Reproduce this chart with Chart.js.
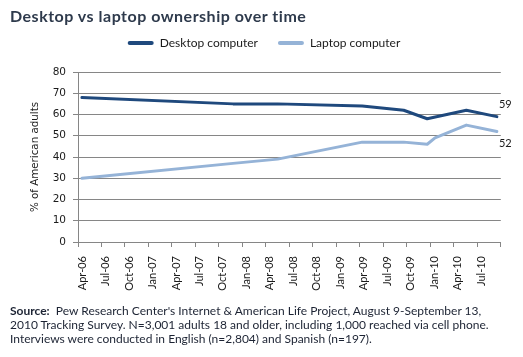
<!DOCTYPE html>
<html>
<head>
<meta charset="utf-8">
<script src="https://cdn.jsdelivr.net/npm/chart.js@4.4.1/dist/chart.umd.min.js"></script>
<style>
  html, body { margin: 0; padding: 0; background: #ffffff; }
  #wrap { position: relative; width: 523px; height: 357px; overflow: hidden; }
  #c { position: absolute; left: 0; top: 0; }
  #title { position: absolute; left: 10px; top: 6px; font: bold 16px Lato, sans-serif; letter-spacing: 0.5px; color: #2e3a4c; white-space: nowrap; }
  #foot { position: absolute; left: 10px; top: 304px; font: 12px Lato, sans-serif; line-height: 14.2px; color: #1c2333; white-space: nowrap; }
</style>
</head>
<body>
<div id="wrap">
  <canvas id="c" width="523" height="357"></canvas>
  <div id="title">Desktop vs laptop ownership over time</div>
  <div id="foot"><b>Source:</b>&nbsp; Pew Research Center's Internet &amp; American Life Project, August 9-September 13,<br>2010 Tracking Survey. N=3,001 adults 18 and older, including 1,000 reached via cell phone.<br>Interviews were conducted in English (n=2,804) and Spanish (n=197).</div>
</div>
<script>
// ---- data (x = months since April 2006) ----
const tickLabels = ['Apr-06','Jul-06','Oct-06','Jan-07','Apr-07','Jul-07','Oct-07','Jan-08','Apr-08','Jul-08','Oct-08','Jan-09','Apr-09','Jul-09','Oct-09','Jan-10','Apr-10','Jul-10',''];
const seriesNames = ['Desktop computer', 'Laptop computer'];
const desktopMonths = [0.5, 19.8, 25.5, 36.3, 41.6, 44.6, 49.6, 53.5];
const desktopValues = [68, 65, 65, 64, 62, 58, 62, 59];
const laptopMonths = [0.5, 19.8, 25.5, 36.3, 41.6, 44.6, 45.6, 49.6, 53.5];
const laptopValues = [30, 37, 39, 47, 47, 46, 49, 55, 52];

const toPoints = (xs, ys) => xs.map((x, i) => ({ x: x, y: ys[i] }));

const GRID = '#868686';
const TEXT = '#1a1a1a';
const DESK = '#1f497d';
const LAP = '#95b3d7';

const legendMargin = {
  id: 'legendMargin',
  beforeInit(chart) {
    const orig = chart.legend.fit;
    chart.legend.fit = function () {
      orig.bind(chart.legend)();
      this.height += 13;
    };
  }
};

const endLabels = {
  id: 'endLabels',
  afterDatasetsDraw(chart) {
    const ctx = chart.ctx;
    ctx.save();
    ctx.font = '11px Lato, sans-serif';
    ctx.fillStyle = TEXT;
    ctx.textAlign = 'left';
    ctx.textBaseline = 'middle';
    chart.data.datasets.forEach((ds, i) => {
      const meta = chart.getDatasetMeta(i);
      const last = meta.data[meta.data.length - 1];
      const val = ds.data[ds.data.length - 1].y;
      const dy = i === 0 ? -12 : 12;
      ctx.fillText(String(val), last.x + 2, last.y + dy);
    });
    ctx.restore();
  }
};

new Chart(document.getElementById('c'), {
  type: 'line',
  data: {
    datasets: [
      { label: seriesNames[0], data: toPoints(desktopMonths, desktopValues), borderColor: DESK, backgroundColor: DESK, borderWidth: 3, pointRadius: 0, tension: 0, borderJoinStyle: 'round', borderCapStyle: 'round' },
      { label: seriesNames[1], data: toPoints(laptopMonths, laptopValues), borderColor: LAP, backgroundColor: LAP, borderWidth: 3, pointRadius: 0, tension: 0, borderJoinStyle: 'round', borderCapStyle: 'round' }
    ]
  },
  options: {
    responsive: false,
    animation: false,
    events: [],
    layout: { padding: { left: 27, right: 22, top: 17, bottom: 0 } },
    plugins: {
      tooltip: { enabled: false },
      title: { display: false },
      legend: {
        display: true,
        position: 'top',
        labels: {
          font: { family: 'Lato', size: 12 },
          color: TEXT,
          boxWidth: 26,
          boxHeight: 4,
          padding: 20,
          generateLabels(chart) {
            return chart.data.datasets.map((ds, i) => ({
              text: ds.label,
              fillStyle: ds.borderColor,
              strokeStyle: ds.borderColor,
              lineWidth: 0,
              borderRadius: 2,
              fontColor: TEXT,
              hidden: false,
              datasetIndex: i
            }));
          }
        }
      }
    },
    scales: {
      x: {
        type: 'linear',
        min: 0,
        max: 54,
        afterFit(s) { s.height = 115; },
        afterBuildTicks(s) {
          s.ticks = tickLabels.map((_, i) => ({ value: i * 3 }));
        },
        ticks: {
          autoSkip: false,
          maxRotation: 90,
          minRotation: 90,
          labelOffset: 4,
          padding: 9,
          color: TEXT,
          font: { family: 'Lato', size: 11 },
          callback: (v) => tickLabels[Math.round(v / 3)] || ''
        },
        grid: { drawOnChartArea: false, drawTicks: true, tickLength: 5, color: GRID, lineWidth: 1 },
        border: { display: true, color: GRID, width: 1 }
      },
      y: {
        min: 0,
        max: 80,
        afterFit(s) { s.width = 51; },
        ticks: { stepSize: 10, padding: 7, color: TEXT, font: { family: 'DejaVu Sans', size: 10.5 } },
        grid: { drawOnChartArea: true, drawTicks: true, tickLength: 5, color: GRID, lineWidth: 1 },
        border: { display: true, color: GRID, width: 1 },
        title: { display: true, text: '% of American adults', color: TEXT, font: { family: 'DejaVu Sans', size: 10.3 }, padding: { top: 2, bottom: 0 } }
      }
    }
  },
  plugins: [legendMargin, endLabels]
});
</script>
</body>
</html>
